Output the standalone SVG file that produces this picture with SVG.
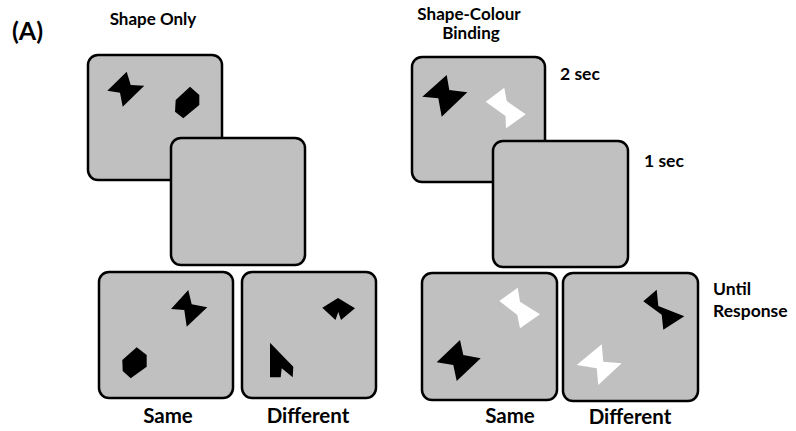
<svg xmlns="http://www.w3.org/2000/svg" width="796" height="431" viewBox="0 0 796 431">
<style>
.panel{fill:#c0c0c0;stroke:#000;stroke-width:2.5}
.blk{fill:#000}
.wht{fill:#fff}
text{font-family:Lato,"Liberation Sans",sans-serif;font-weight:bold;fill:#000}
.lbl{font-size:20.5px}
.ttl{font-size:17px}
.tm{font-size:17.5px}
</style>
<rect width="796" height="431" fill="#fff"/>
<text x="12" y="40" style="font-size:25px">(A)</text>
<text x="153" y="25" class="ttl" text-anchor="middle">Shape Only</text>
<text x="469" y="20" class="ttl" text-anchor="middle">Shape-Colour</text>
<text x="471" y="39" class="ttl" text-anchor="middle">Binding</text>
<g id="left-sample">
<rect class="panel" x="88" y="55" width="134" height="125" rx="10"/>
<polygon class="blk" points="126.7,71.7 130.7,85 144.3,85.7 122.7,106.7 120,92.7 107.3,90.7"/>
<polygon class="blk" points="190,86.7 199.3,95 199.3,105 183.3,118.3 175,111.7 175.7,100"/>
</g>
<g id="left-blank">
<rect class="panel" x="171" y="138" width="134" height="127" rx="10"/>
</g>
<g id="left-same">
<rect class="panel" x="99" y="272" width="134" height="126" rx="10"/>
<polygon class="blk" points="188.3,290 191.7,304.3 207.3,307.3 186.7,326.7 184.3,310 171,309"/>
<polygon class="blk" points="136.7,347.3 146.7,355 146.7,366.7 130.7,378.3 122.7,371 122.3,360"/>
<text x="168" y="423" class="lbl" text-anchor="middle">Same</text>
</g>
<g id="left-different">
<rect class="panel" x="242" y="272" width="134" height="126" rx="10"/>
<polygon class="blk" points="338,298 355,308.3 341,320 338.3,312 335.5,320 322.3,307.7"/>
<polygon class="blk" points="270,342.7 293.3,366.7 292.7,377.3 281.7,368.3 280.7,377.3 270,377.3"/>
<text x="308" y="423" class="lbl" text-anchor="middle">Different</text>
</g>
<g id="right-sample">
<rect class="panel" x="412" y="57" width="133" height="125" rx="10"/>
<polygon class="blk" points="446.7,75 449.3,90 467.3,92.3 441.7,116.7 438.3,98.3 422.3,96.7"/>
<polygon class="wht" points="504.3,87.7 506.7,101 525.7,114.3 506,128.3 505.5,116 485.7,101.7"/>
</g>
<g id="right-blank">
<rect class="panel" x="493" y="141" width="135" height="126" rx="10"/>
</g>
<g id="right-same">
<rect class="panel" x="422" y="273" width="135" height="127" rx="10"/>
<polygon class="wht" points="517.7,287.7 520,301.7 540,314.3 520,328.3 517.3,315 499.3,301"/>
<polygon class="blk" points="460,340 463.3,355 480.7,358.3 456.7,381 453.3,365 436.7,362.3"/>
<text x="510" y="423" class="lbl" text-anchor="middle">Same</text>
</g>
<g id="right-different">
<rect class="panel" x="563" y="273" width="135" height="128" rx="10"/>
<polygon class="blk" points="656.7,289.7 658.3,306 684.3,316.3 663.3,329.7 661.7,314.7 643.3,301.3"/>
<polygon class="wht" points="601.7,344.3 603.3,361.7 621.7,363.3 598.3,385 596.7,368.3 576.7,365"/>
<text x="630" y="424" class="lbl" text-anchor="middle">Different</text>
</g>
<g id="timings">
<text x="560" y="80" class="tm">2 sec</text>
<text x="644" y="167" class="tm">1 sec</text>
<text x="713" y="295" class="tm">Until</text>
<text x="713" y="317" class="tm">Response</text>
</g>
<g id="connectors"></g>
</svg>
